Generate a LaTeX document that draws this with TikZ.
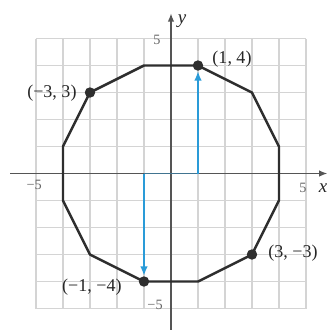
\documentclass[tikz,border=0pt]{standalone}
\usepackage{fontspec}
\setmainfont{Liberation Serif}
\usetikzlibrary{arrows.meta}
\definecolor{gridc}{HTML}{D4D4D4}
\definecolor{axisc}{HTML}{555555}
\definecolor{polyc}{HTML}{2E2E2E}
\definecolor{arrc}{HTML}{2A9BD8}
\begin{document}
\begin{tikzpicture}[x=0.5cm,y=0.5cm,
  gridline/.style={draw=gridc,line width=0.6pt},
  axis/.style={draw=axisc,line width=1pt,-{Latex[length=4.5pt,width=3.5pt]}},
  poly/.style={draw=polyc,line width=1.3pt,line join=round},
  dot/.style={circle,fill=polyc,inner sep=0pt,minimum size=5.5pt},
  lbl/.style={font=\fontsize{9.5}{11}\selectfont,text=black!85,inner sep=0pt},
  tick/.style={font=\fontsize{7.5}{8}\selectfont,text=black!60,inner sep=0pt},
  axlbl/.style={font=\fontsize{10}{11}\selectfont\itshape,text=black!85,inner sep=0pt},
  bluepath/.style={draw=arrc,line width=1pt},
  bluearrow/.style={draw=arrc,line width=1pt,-{Latex[length=5pt,width=4pt]}},
]
\useasboundingbox (-6.333,-5.796) rectangle (5.815,6.426);
% grid
\draw[gridline,step=0.5cm] (-5,-5) grid (5,5);
% axes
\coordinate (xs) at (-5.96,0);
\coordinate (xe) at (5.8,0);
\coordinate (ys) at (0,-5.8);
\coordinate (ye) at (0,5.94);
\draw[axis] (xs) -- (xe);
\draw[axis] (ys) -- (ye);
% polygon vertices
\coordinate (v1) at (-1,4);
\coordinate (v2) at (1,4);
\coordinate (v3) at (3,3);
\coordinate (v4) at (4,1);
\coordinate (v5) at (4,-1);
\coordinate (v6) at (3,-3);
\coordinate (v7) at (1,-4);
\coordinate (v8) at (-1,-4);
\coordinate (v9) at (-3,-3);
\coordinate (v10) at (-4,-1);
\coordinate (v11) at (-4,1);
\coordinate (v12) at (-3,3);
\draw[poly] (v1) -- (v2) -- (v3) -- (v4) -- (v5) -- (v6) -- (v7) -- (v8) -- (v9) -- (v10) -- (v11) -- (v12) -- cycle;
% dots
\node[dot] (p14) at (v2) {};
\node[dot] (pm33) at (v12) {};
\node[dot] (p3m3) at (v6) {};
\node[dot] (pm1m4) at (v8) {};
% blue paths
\coordinate (o) at (0,0);
\coordinate (a1) at (1,0);
\coordinate (am1) at (-1,0);
\draw[bluepath,opacity=0.45] (am1) -- (a1);
\draw[bluearrow] (a1) -- (p14);
\draw[bluearrow] (am1) -- (pm1m4);
% labels
\node[lbl] (l14) at (2.26,4.24) {(1, 4)};
\node[lbl] (lm33) at (-4.41,2.98) {(−3, 3)};
\node[lbl] (l3m3) at (4.52,-2.94) {(3, −3)};
\node[lbl] (lm1m4) at (-2.93,-4.2) {(−1, −4)};
% ticks
\node[tick] (t5y) at (-0.52,4.94) {5};
\node[tick] (tm5y) at (-0.59,-4.87) {−5};
\node[tick] (t5x) at (4.89,-0.54) {5};
\node[tick] (tm5x) at (-5.07,-0.43) {−5};
\node[axlbl] (lx) at (5.63,-0.54) {x};
\node[axlbl] (ly) at (0.41,5.65) {y};
\end{tikzpicture}
\end{document}
